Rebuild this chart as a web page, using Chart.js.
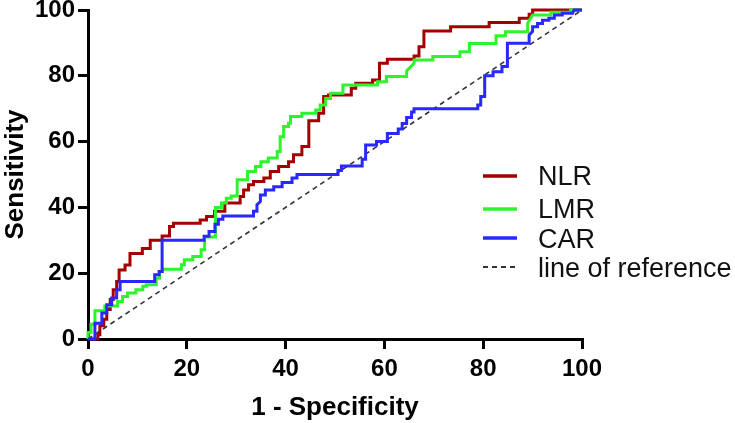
<!DOCTYPE html>
<html lang="en">
<head>
    <meta charset="UTF-8">
    <title>ROC curves</title>
    <script src="https://cdn.jsdelivr.net/npm/chart.js"></script>
    <style>
        html, body { margin: 0; padding: 0; background: #fff; }
        #wrap { width: 735px; height: 423px; }
    </style>
</head>
<body>
<div id="wrap"><canvas id="rocChart" width="735" height="423"></canvas></div>
<script>
    // tick values on both axes
    const axisTicks = [0, 20, 40, 60, 80, 100];

    // NLR curve corners (1 - specificity, sensitivity)
    const nlrX = [0, 2, 2, 2.4, 2.4, 3.2, 3.2, 3.8, 3.8, 4.5, 4.5, 5.1, 5.1, 5.8, 5.8, 6.3, 6.3, 7.5, 7.5, 8.5, 8.5, 11, 11, 12.6, 12.6, 15, 15, 16.5, 16.5, 17.3, 17.3, 22.7, 22.7, 24, 24, 25.6, 25.6, 27.7, 27.7, 30.8, 30.8, 31.5, 31.5, 32.5, 32.5, 33.5, 33.5, 35.6, 35.6, 36.9, 36.9, 38.6, 38.6, 40.6, 40.6, 41.6, 41.6, 43.3, 43.3, 44.7, 44.7, 46.7, 46.7, 47.7, 47.7, 48.7, 48.7, 53.3, 53.3, 54.2, 54.2, 57.6, 57.6, 59, 59, 60.6, 60.6, 66, 66, 67, 67, 68, 68, 73.4, 73.4, 81.2, 81.2, 87.3, 87.3, 89.3, 89.3, 90, 90, 100];
    const nlrY = [0, 0, 1.3, 1.3, 4, 4, 6, 6, 9, 9, 12, 12, 15, 15, 17.5, 17.5, 21, 21, 22.5, 22.5, 26, 26, 27.5, 27.5, 30, 30, 31.3, 31.3, 34.2, 34.2, 35.2, 35.2, 36.2, 36.2, 37.2, 37.2, 38.8, 38.8, 41.3, 41.3, 43.3, 43.3, 45.3, 45.3, 46.9, 46.9, 47.9, 47.9, 48.9, 48.9, 50.9, 50.9, 52.4, 52.4, 53.9, 53.9, 56, 56, 58.5, 58.5, 66.3, 66.3, 68.6, 68.6, 73.7, 73.7, 74.2, 74.2, 76.2, 76.2, 77.7, 77.7, 78.7, 78.7, 83.8, 83.8, 85, 85, 86, 86, 88.8, 88.8, 93.6, 93.6, 94.9, 94.9, 96.2, 96.2, 97.5, 97.5, 98.7, 98.7, 100, 100];

    // LMR curve corners
    const lmrX = [0, 0, 0.6, 0.6, 1.4, 1.4, 3.4, 3.4, 6, 6, 7, 7, 8, 8, 9.7, 9.7, 11.1, 11.1, 11.8, 11.8, 13.8, 13.8, 14.5, 14.5, 15.1, 15.1, 18.9, 18.9, 19.5, 19.5, 21.2, 21.2, 22.9, 22.9, 23.6, 23.6, 25.8, 25.8, 27, 27, 28, 28, 29, 29, 30.2, 30.2, 32.3, 32.3, 33.9, 33.9, 35, 35, 36.5, 36.5, 38.3, 38.3, 38.9, 38.9, 39.6, 39.6, 40.6, 40.6, 41, 41, 43.3, 43.3, 46.1, 46.1, 47, 47, 48.1, 48.1, 49.1, 49.1, 51.6, 51.6, 58.6, 58.6, 60.4, 60.4, 64.5, 64.5, 66, 66, 69.8, 69.8, 75.3, 75.3, 77.2, 77.2, 82.6, 82.6, 84.5, 84.5, 89, 89, 89.6, 90, 93.7, 93.7, 97.7, 97.7, 100];
    const lmrY = [0, 2, 2, 4.5, 4.5, 8.6, 8.6, 10, 10, 11.4, 11.4, 12.9, 12.9, 14, 14, 15, 15, 16, 16, 16.5, 16.5, 18.5, 18.5, 20.5, 20.5, 21.2, 21.2, 22.6, 22.6, 24.1, 24.1, 25.1, 25.1, 27.1, 27.1, 31, 31, 40, 40, 41.3, 41.3, 42.8, 42.8, 43.5, 43.5, 48.4, 48.4, 50.9, 50.9, 52.4, 52.4, 53.9, 53.9, 55, 55, 57, 57, 61.5, 61.5, 64.6, 64.6, 65.6, 65.6, 67.6, 67.6, 68.6, 68.6, 69.6, 69.6, 71.1, 71.1, 73.1, 73.1, 74.7, 74.7, 77.2, 77.2, 78.2, 78.2, 79.8, 79.8, 81.5, 83.8, 84.8, 84.8, 85.9, 85.9, 87.3, 87.3, 89.8, 89.8, 92.2, 92.2, 93.4, 93.4, 96, 97.5, 98.5, 98.5, 99.3, 99.3, 100, 100];

    // CAR curve corners
    const carX = [0, 1.4, 1.4, 2.8, 2.8, 3.8, 3.8, 4.8, 4.8, 5.8, 5.8, 6.5, 6.5, 13.5, 13.5, 14.4, 14.4, 15, 15, 23.5, 23.5, 24.5, 24.5, 25.7, 25.7, 26.4, 26.4, 27.3, 27.3, 33.5, 33.5, 34.2, 34.2, 34.9, 34.9, 35.9, 35.9, 37.6, 37.6, 39.3, 39.3, 41.3, 41.3, 42.3, 42.3, 50.6, 50.6, 51.3, 51.3, 55.5, 55.5, 56.2, 56.2, 58.4, 58.4, 60.6, 60.6, 62.8, 62.8, 63.6, 63.6, 64.5, 64.5, 65.5, 65.5, 66, 66, 78.9, 78.9, 79.5, 79.5, 80.3, 80.3, 82, 82, 83.8, 83.8, 84.9, 84.9, 89.3, 89.3, 90, 90, 91, 91, 92, 92, 93.3, 93.3, 94.4, 94.4, 96, 96, 98.1, 98.4, 100];
    const carY = [0, 0, 4.8, 4.8, 7.9, 7.9, 10.4, 10.4, 12.5, 12.5, 15, 15, 17.5, 17.5, 19.5, 19.5, 20.5, 20.5, 30, 30, 31.2, 31.2, 32.7, 32.7, 34.9, 34.9, 36.4, 36.4, 37.4, 37.4, 38.8, 38.8, 40.8, 41.8, 43.8, 43.8, 45.3, 45.3, 46.3, 46.3, 47.6, 47.6, 48.9, 48.9, 50, 50, 51.2, 51.2, 52.6, 52.6, 54.6, 54.6, 59, 59, 60, 60, 62.5, 62.5, 63.8, 63.8, 65.5, 65.5, 67.3, 67.3, 69, 69, 70, 70, 71.1, 71.1, 73.7, 73.7, 80, 80, 81.2, 81.2, 82.8, 82.8, 89.9, 89.9, 92.4, 93.5, 94.9, 94.9, 95.9, 95.9, 96.9, 96.9, 97.5, 97.5, 98.5, 98.5, 99, 99, 100, 100];

    // line of reference
    const refX = [0, 100];
    const refY = [0, 100];

    const seriesNames = ['NLR', 'LMR', 'CAR', 'line of reference'];

    function toPoints(xs, ys) {
        return xs.map((x, i) => ({x: x, y: ys[i]}));
    }

    const fontFamily = "Arial, 'Liberation Sans', sans-serif";

    // legend drawn by hand so it can sit beside the curves like the original
    const sideLegend = {
        id: 'sideLegend',
        afterDraw(chart) {
            const ctx = chart.ctx;
            const rows = [
                {line: 176, base: 185},
                {line: 209, base: 218},
                {line: 238, base: 248},
                {line: 267, base: 277}
            ];
            ctx.save();
            chart.data.datasets.forEach((ds, i) => {
                const r = rows[i];
                ctx.beginPath();
                ctx.strokeStyle = ds.borderColor;
                ctx.lineWidth = i === 3 ? 2 : 3.5;
                ctx.setLineDash(ds.borderDash || []);
                ctx.moveTo(483, r.line);
                ctx.lineTo(517, r.line);
                ctx.stroke();
                ctx.setLineDash([]);
                ctx.fillStyle = '#111';
                ctx.font = '27px ' + fontFamily;
                ctx.textBaseline = 'alphabetic';
                ctx.fillText(ds.label, 538, r.base);
            });
            ctx.restore();
        }
    };

    const lineStyle = {
        borderWidth: 3,
        pointRadius: 0,
        tension: 0,
        fill: false,
        clip: false,
        borderJoinStyle: 'miter',
        borderCapStyle: 'butt'
    };

    new Chart(document.getElementById('rocChart'), {
        type: 'line',
        data: {
            datasets: [
                Object.assign({label: seriesNames[0], data: toPoints(nlrX, nlrY), borderColor: '#a50000', order: 2}, lineStyle),
                Object.assign({label: seriesNames[1], data: toPoints(lmrX, lmrY), borderColor: '#2cf52c', order: 1}, lineStyle),
                Object.assign({label: seriesNames[2], data: toPoints(carX, carY), borderColor: '#2828ff', order: 0}, lineStyle),
                Object.assign({}, lineStyle, {label: seriesNames[3], data: toPoints(refX, refY), borderColor: '#333', borderWidth: 1.6, borderDash: [5, 4], order: 3})
            ]
        },
        options: {
            responsive: false,
            animation: false,
            layout: {padding: {top: 10, right: 153, left: 0, bottom: 0}},
            plugins: {
                legend: {display: false},
                tooltip: {enabled: false}
            },
            scales: {
                x: {
                    type: 'linear',
                    min: 0,
                    max: 100,
                    afterBuildTicks: s => { s.ticks = axisTicks.map(v => ({value: v})); },
                    afterFit: s => { s.height = 84; s.paddingLeft = 0; s.paddingRight = 0; },
                    border: {display: true, color: '#000', width: 3},
                    grid: {drawOnChartArea: false, drawTicks: true, tickLength: 10, color: '#000', lineWidth: 3},
                    ticks: {color: '#000', padding: 6, maxRotation: 0, font: {family: fontFamily, size: 24, weight: 'bold'}},
                    title: {display: true, text: '1 - Specificity', color: '#000', padding: {top: 6, bottom: 0},
                        font: {family: fontFamily, size: 26, weight: 'bold'}}
                },
                y: {
                    type: 'linear',
                    min: 0,
                    max: 100,
                    afterBuildTicks: s => { s.ticks = axisTicks.map(v => ({value: v})); },
                    afterFit: s => { s.width = 88; s.paddingTop = 0; s.paddingBottom = 0; },
                    border: {display: true, color: '#000', width: 3},
                    grid: {drawOnChartArea: false, drawTicks: true, tickLength: 10, color: '#000', lineWidth: 3},
                    ticks: {color: '#000', padding: 3, font: {family: fontFamily, size: 24, weight: 'bold'}},
                    title: {display: true, text: 'Sensitivity', color: '#000', padding: {top: 0, bottom: 4},
                        font: {family: fontFamily, size: 26, weight: 'bold'}}
                }
            }
        },
        plugins: [sideLegend]
    });
</script>
</body>
</html>
